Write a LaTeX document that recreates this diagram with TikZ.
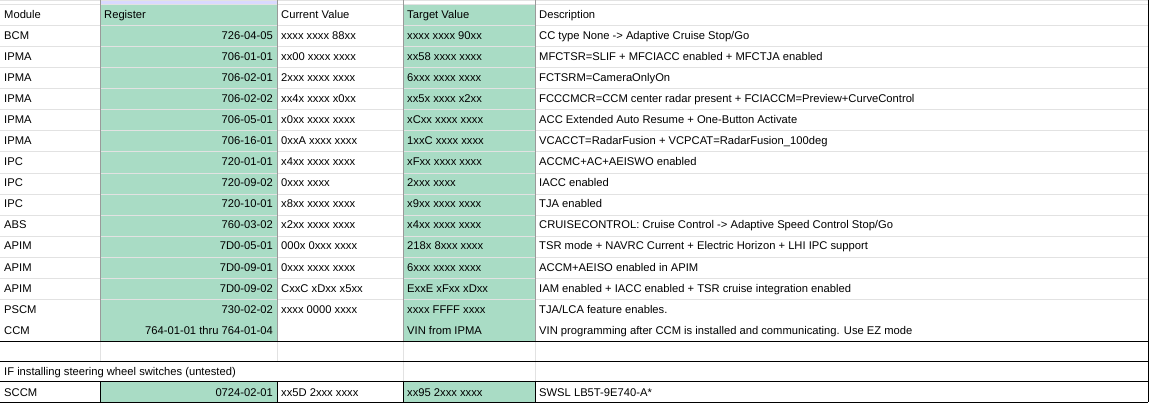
\documentclass[tikz,border=0pt]{standalone}
\usepackage{fontspec}
\setmainfont{Liberation Sans}
\usepackage{xcolor}
\definecolor{sheetgreen}{HTML}{A9DCC5}
\definecolor{gridgray}{HTML}{E2E2E2}
\definecolor{sepgray}{HTML}{9A9A9A}
\tikzset{
  cell/.style={inner sep=0pt, anchor=base west, font=\fontsize{11.2}{13}\selectfont},
  rcell/.style={cell, anchor=base east},
}
\begin{document}
\begin{tikzpicture}[x=1pt, y=-1pt]
        \useasboundingbox (0,0) rectangle (1151,403);
        % green columns
        \fill[sheetgreen] (100,4) rectangle (277,341);
        \fill[sheetgreen] (403,4) rectangle (535,341);
        \fill[sheetgreen] (100,381) rectangle (277,402);
        \fill[sheetgreen] (403,381) rectangle (535,402);
        \fill[blue!15] (100,0) rectangle (277,4);
        % grid
        \foreach \y in {4,25.1,...,320}
        \draw[gridgray] (0,\y) -- (1148,\y);
        \draw[gridgray] (0,0) -- (1148,0);
        \foreach \x in {100,277,403,535}
        \draw[gridgray] (\x,341) -- (\x,361);
        \foreach \x in {100,277,403,535}
        \draw[sepgray] (\x,0) -- (\x,341);
        \draw[gridgray] (535,361) -- (535,381) (403,361) -- (403,381);
        \draw[black] (0,341) -- (1148,341);
        \draw[black] (0,361) -- (1148,361) (0,381) -- (1148,381) (0,402) -- (1148,402);
        \foreach \x in {100,277,403,535}
        \draw[black] (\x,381) -- (\x,402);
        \draw[black] (1148,0) -- (1148,402);
        % header
        \node[cell] (hmod) at (4,18.2) {Module};
        \node[cell] (hreg) at (104,18.2) {Register};
        \node[cell] (hcur) at (281,18.2) {Current Value};
        \node[cell] (htgt) at (407,18.2) {Target Value};
        \node[cell] (hdsc) at (539,18.2) {Description};
        % rows
        \foreach \m/\r/\c/\t/\d [count=\i] in {
        BCM/726-04-05/{xxxx xxxx 88xx}/{xxxx xxxx 90xx}/{CC type None -> Adaptive Cruise Stop/Go},
        IPMA/706-01-01/{xx00 xxxx xxxx}/{xx58 xxxx xxxx}/{MFCTSR=SLIF + MFCIACC enabled + MFCTJA enabled},
        IPMA/706-02-01/{2xxx xxxx xxxx}/{6xxx xxxx xxxx}/{FCTSRM=CameraOnlyOn},
        IPMA/706-02-02/{xx4x xxxx x0xx}/{xx5x xxxx x2xx}/{FCCCMCR=CCM center radar present + FCIACCM=Preview+CurveControl},
        IPMA/706-05-01/{x0xx xxxx xxxx}/{xCxx xxxx xxxx}/{ACC Extended Auto Resume + One-Button Activate},
        IPMA/706-16-01/{0xxA xxxx xxxx}/{1xxC xxxx xxxx}/{VCACCT=RadarFusion + VCPCAT=RadarFusion\_100deg},
        IPC/720-01-01/{x4xx xxxx xxxx}/{xFxx xxxx xxxx}/{ACCMC+AC+AEISWO enabled},
        IPC/720-09-02/{0xxx xxxx}/{2xxx xxxx}/{IACC enabled},
        IPC/720-10-01/{x8xx xxxx xxxx}/{x9xx xxxx xxxx}/{TJA enabled},
        ABS/760-03-02/{x2xx xxxx xxxx}/{x4xx xxxx xxxx}/{CRUISECONTROL: Cruise Control -> Adaptive Speed Control Stop/Go},
        APIM/7D0-05-01/{000x 0xxx xxxx}/{218x 8xxx xxxx}/{TSR mode + NAVRC Current + Electric Horizon + LHI IPC support},
        APIM/7D0-09-01/{0xxx xxxx xxxx}/{6xxx xxxx xxxx}/{ACCM+AEISO enabled in APIM},
        APIM/7D0-09-02/{CxxC xDxx x5xx}/{ExxE xFxx xDxx}/{IAM enabled + IACC enabled + TSR cruise integration enabled},
        PSCM/730-02-02/{xxxx 0000 xxxx}/{xxxx FFFF xxxx}/{TJA/LCA feature enables.},
        CCM/{764-01-01 thru 764-01-04}/{}/{VIN from IPMA}/{VIN programming after CCM is installed and communicating. Use EZ mode}}
        {
        \node[cell] (mod\i) at (4,18.2+21.07*\i) {\m};
        \node[rcell] (reg\i) at (273,18.2+21.07*\i) {\r};
        \node[cell] (cur\i) at (281,18.2+21.07*\i) {\c};
        \node[cell] (tgt\i) at (407,18.2+21.07*\i) {\t};
        \node[cell] (dsc\i) at (539,18.2+21.07*\i) {\d};
        }
        % steering wheel switches
        \node[cell] (swnote) at (4,375.2) {IF installing steering wheel switches (untested)};
        \node[cell] (swmod) at (4,396.2) {SCCM};
        \node[rcell] (swreg) at (273,396.2) {0724-02-01};
        \node[cell] (swcur) at (281,396.2) {xx5D 2xxx xxxx};
        \node[cell] (swtgt) at (407,396.2) {xx95 2xxx xxxx};
        \node[cell] (swdsc) at (539,396.2) {SWSL LB5T-9E740-A*};
\end{tikzpicture}
\end{document}
